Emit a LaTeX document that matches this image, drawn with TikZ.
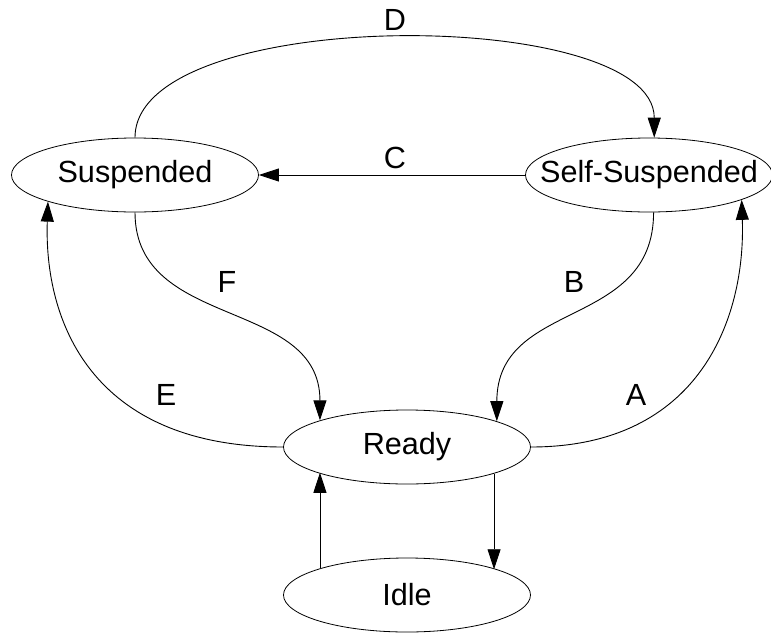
\documentclass[tikz,border=0pt]{standalone}
\usepackage{fontspec}
\setmainfont{Liberation Sans}
\usepackage{tikz}
\usetikzlibrary{arrows.meta,shapes.geometric}

\begin{document}
\begin{tikzpicture}[x=1pt,y=-1pt,
  state/.style={draw, ellipse, line width=0.8pt, minimum width=247pt, minimum height=74pt, inner sep=0pt, font=\fontsize{30.6}{36}\selectfont},
  lbl/.style={font=\fontsize{30.6}{36}\selectfont},
  trans/.style={line width=0.9pt, -{Triangle[length=20pt,width=13pt]}}]
\useasboundingbox (0,0) rectangle (771,632);

\node[state] (susp) at (135,175) {Suspended};
\node[state, inner xsep=-22pt] (self) at (649,175) {Self-Suspended};
\node[state] (ready) at (407,447) {Ready};
\node[state] (idle) at (407,595) {Idle};

\draw[trans] (susp.north) .. controls +(0,-133) and +(0,-132) .. (self.82.3);
\node[lbl] (lblD) at (395,20) {D};

\draw[trans] (self.west) -- (susp.east);
\node[lbl] (lblC) at (395,158) {C};

\draw[trans] (susp.south) .. controls +(0,118) and +(0,-123) .. (ready.163.5);
\node[lbl] (lblF) at (227,282) {F};

\draw[trans] (self.277.7) .. controls +(0,118) and +(0,-123) .. (ready.16.5);
\node[lbl] (lblB) at (574,282) {B};

\draw[trans] (ready.west) .. controls +(-193,0) and +(-4,118) .. (susp.197.4);
\node[lbl] (lblE) at (166,395) {E};

\draw[trans] (ready.east) .. controls +(169,0) and +(4,118) .. (self.345);
\node[lbl] (lblA) at (636,395) {A};

% ready <-> idle, kept vertical
\draw[trans] (ready.343.5) -- (ready.343.5 |- idle.16.5);
\draw[trans] (idle.163.5) -- (idle.163.5 |- ready.196.5);

\end{tikzpicture}
\end{document}
